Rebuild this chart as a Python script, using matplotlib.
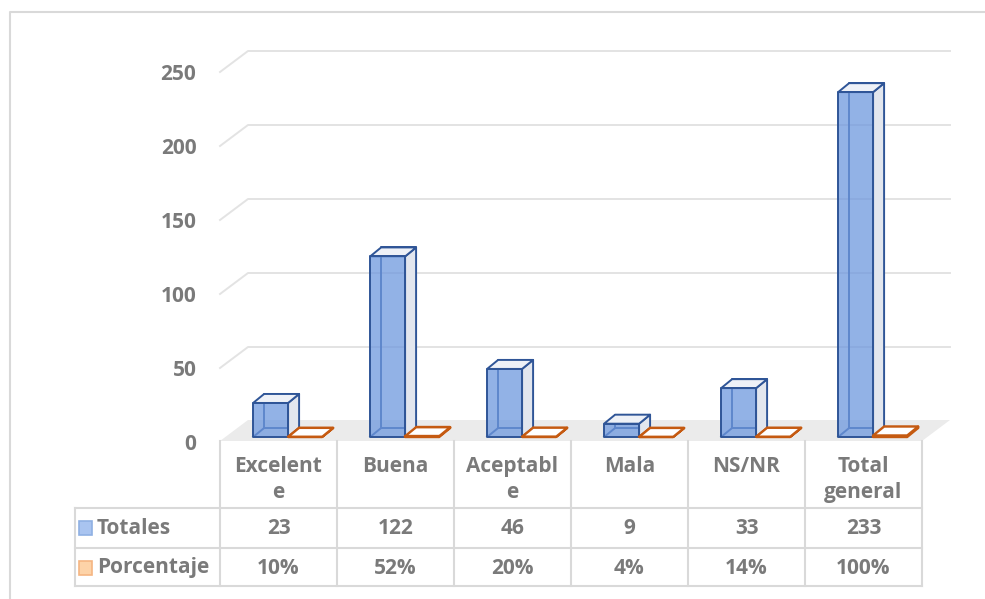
import matplotlib.pyplot as plt
from matplotlib.patches import Polygon, Rectangle
from matplotlib.lines import Line2D
from matplotlib.colors import to_rgba
from matplotlib.transforms import blended_transform_factory, ScaledTranslation

# datos de la encuesta
categorias = ['Excelente', 'Buena', 'Aceptable', 'Mala', 'NS/NR', 'Total general']
etiquetas = ['Excelent\ne', 'Buena', 'Aceptabl\ne', 'Mala', 'NS/NR', 'Total\ngeneral']
totales = [23, 122, 46, 9, 33, 233]
porcentaje = [0.10, 0.52, 0.20, 0.04, 0.14, 1.00]
series = ['Totales', 'Porcentaje']
yticks = [0, 50, 100, 150, 200, 250]

W, H = 985, 599
fig = plt.figure(figsize=(W / 100, H / 100), dpi=100)


def fx(px):
    return px / W


def fy(py):
    return 1 - py / H


plt.rcParams['font.family'] = ['Open Sans', 'DejaVu Sans']
gris = '#7a7a7a'
fs = 15

# escala: px por unidad en x (categoria) y en y (valor)
ppx = 702 / 6
ppy = 1.48
ymax = 270
ax = fig.add_axes([fx(220), fy(437), 702 / W, ymax * ppy / H])
ax.set_xlim(-0.5, 5.5)
ax.set_ylim(0, ymax)
ax.patch.set_visible(False)
for s in ax.spines.values():
    s.set_visible(False)
ax.set_xticks([])
ax.set_yticks(yticks)
ax.set_yticklabels([str(t) for t in yticks], fontsize=fs, fontweight='bold', color=gris)
ax.tick_params(length=0, pad=17)

# la pared del fondo arranca un poco por delante de las barras
bajar = ScaledTranslation(0, -5 / 100, fig.dpi_scale_trans)
for lab in ax.get_yticklabels():
    lab.set_transform(lab.get_transform() + bajar)

# profundidad de pared y de barras (en unidades de datos)
pdx, pdy = 28 / ppx, 21 / ppy
bdx, bdy = 11 / ppx, 9 / ppy

# lineas de division en la pared del fondo
for t in yticks[1:]:
    ax.add_line(Line2D([-0.5, -0.5 + pdx, 5.5 + pdx], [t, t + pdy, t + pdy],
                       color='#e3e3e3', lw=1.4, clip_on=False, zorder=1,
                       transform=ax.transData + bajar))

# piso
ax.add_patch(Polygon([(-0.5, -4 / ppy), (5.5, -4 / ppy), (5.5 + pdx, 17 / ppy),
                      (-0.5 + pdx, 17 / ppy)], facecolor='#ebebeb', edgecolor='none',
                     clip_on=False, zorder=2))


def caja(x0, x1, v, borde, frente, lado, tapa, lw):
    kw = dict(edgecolor=borde, lw=lw, clip_on=False, joinstyle='round', zorder=3)
    ax.add_patch(Rectangle((x0 + bdx, bdy), x1 - x0, v, fill=False, **kw))
    ax.add_line(Line2D([x0, x0 + bdx], [0, bdy], color=borde, lw=lw, zorder=3))
    ax.add_patch(Polygon([(x1, 0), (x1 + bdx, bdy), (x1 + bdx, v + bdy), (x1, v)],
                         facecolor=lado, **kw))
    ax.add_patch(Polygon([(x0, v), (x1, v), (x1 + bdx, v + bdy), (x0 + bdx, v + bdy)],
                         facecolor=tapa, **kw))
    ax.add_patch(Rectangle((x0, 0), x1 - x0, v, facecolor=frente, **kw))


for i in range(len(categorias)):
    caja(i - 0.217, i + 0.082, totales[i], '#2f5597', to_rgba('#6e98de', 0.75),
         '#e2e6ee', '#eef1f7', 1.4)
    caja(i + 0.082, i + 0.373, porcentaje[i], '#c55a11', to_rgba('#ffffff', 0.6),
         '#fbe9dc', '#ffffff', 1.7)

# tabla de datos
linea = dict(color='#d9d9d9', lw=1.5)
bt = blended_transform_factory(ax.transData, fig.transFigure)
for y in [508, 548, 586]:
    fig.add_artist(Line2D([fx(75), fx(922)], [fy(y), fy(y)], **linea))
fig.add_artist(Line2D([fx(75), fx(75)], [fy(508), fy(586)], **linea))
for i in range(len(categorias) + 1):
    fig.add_artist(Line2D([i - 0.5, i - 0.5], [fy(441), fy(586)], transform=bt, **linea))

for i, lab in enumerate(etiquetas):
    fig.text(i, fy(456), lab, transform=bt, ha='center', va='top', fontsize=fs,
             fontweight='bold', color=gris, linespacing=1.3)
    fig.text(i, fy(528), str(totales[i]), transform=bt, ha='center', va='center',
             fontsize=fs, fontweight='bold', color=gris)
    fig.text(i, fy(568), f'{porcentaje[i]:.0%}', transform=bt, ha='center', va='center',
             fontsize=fs, fontweight='bold', color=gris)

claves = [('#a9c4f0', '#8fb0e3'), ('#fdd3a8', '#f5b582')]
for nombre, (relleno, borde), yc in zip(series, claves, [528, 568]):
    fig.add_artist(Rectangle((fx(79), fy(yc + 7)), 13 / W, 14 / H, facecolor=relleno,
                             edgecolor=borde, lw=1.2, transform=fig.transFigure))
    fig.text(fx(97), fy(yc), nombre, ha='left', va='center', fontsize=fs,
             fontweight='bold', color=gris)

# marco del grafico
fig.add_artist(Line2D([fx(10), fx(10), fx(990)], [fy(605), fy(12), fy(12)],
                      color='#d9d9d9', lw=1.5))

fig.savefig('out.png', dpi=100)
